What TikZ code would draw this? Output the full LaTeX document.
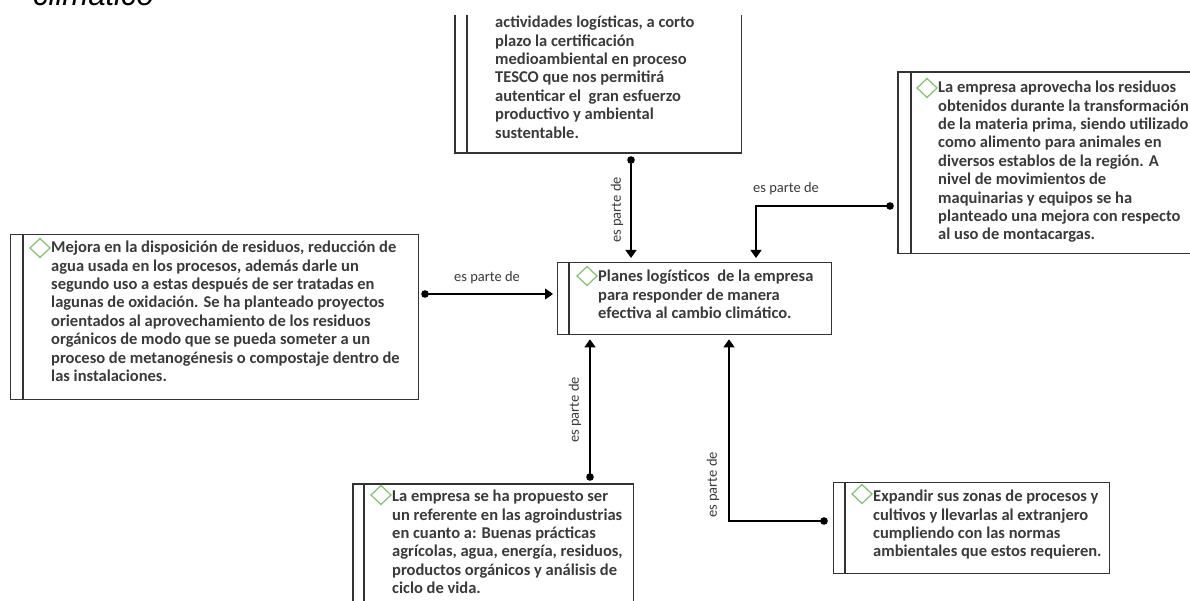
\documentclass[tikz,border=0pt]{standalone}
\usepackage{fontspec}
\setmainfont{Carlito}
\newfontfamily\titlefont{Liberation Sans}
\usetikzlibrary{arrows.meta,calc}
\definecolor{boxline}{HTML}{333333}
\definecolor{txt}{HTML}{3A3A3A}
\definecolor{dgreen}{HTML}{7DC36B}
\tikzset{
  box/.style={draw=boxline, line width=1.3pt, rectangle, inner sep=0pt, fill=none},
  bar/.style={draw=boxline, line width=1.3pt},
  btext/.style={text=txt, font=\bfseries\fontsize{16.5}{18.4}\selectfont, align=left, inner sep=0pt, anchor=north west},
  lbl/.style={text=txt, font=\fontsize{14.5}{16}\selectfont, inner sep=0pt},
  conn/.style={draw=black, line width=1.2pt, -{Triangle[width=11pt,length=8pt]}, shorten >=4pt},
  dotmark/.style={fill=black},
  dia/.style={draw=dgreen, line width=1.2pt}
}
\newcommand{\diam}[2]{\draw[dia] (#1-10,#2) -- (#1,#2-9.5) -- (#1+10,#2) -- (#1,#2+9.5) -- cycle;}
\begin{document}
\begin{tikzpicture}[x=1pt,y=-1pt]
\useasboundingbox (0,0) rectangle (1190,601);
% title fragment
\node[anchor=base west, inner sep=0pt, font=\titlefont\itshape\fontsize{31}{36}\selectfont, text=black] (ttl) at (33,6) {climático};

% central box
\node[box, minimum width=274pt, minimum height=72pt, anchor=north west] (c) at (557,262) {};
\draw[bar] ([xshift=12pt]c.north west) -- ([xshift=12pt]c.south west);
\diam{587}{276}
\node[btext] (ct) at (598,270) {Planes logísticos\ \ de la empresa\\para responder de manera\\efectiva al cambio climático.};

% top box (cut at top)
\node[inner sep=0pt, minimum width=286pt, minimum height=138pt, anchor=south west] (t) at (455,153) {};
\draw[bar] (t.north west) -- (t.south west) -- (t.south east) -- (t.north east);
\draw[bar] ([xshift=12pt]t.north west) -- ([xshift=12pt]t.south west);
\node[btext] (tt) at (495,16) {actividades logísticas, a corto\\plazo la certificación\\medioambiental en proceso\\TESCO que nos permitirá\\autenticar el\ \ gran esfuerzo\\productivo y ambiental\\sustentable.};

% right box (cut at right)
\node[inner sep=0pt, minimum width=300pt, minimum height=181pt, anchor=north west] (r) at (898,72) {};
\draw[bar] (r.north east) -- (r.north west) -- (r.south west) -- (r.south east);
\draw[bar] ([xshift=13pt]r.north west) -- ([xshift=13pt]r.south west);
\diam{927}{88}
\node[btext] (rt) at (938,81) {La empresa aprovecha los residuos\\obtenidos durante la transformación\\de la materia prima, siendo utilizado\\como alimento para animales en\\diversos establos de la región. A\\nivel de movimientos de\\maquinarias y equipos se ha\\planteado una mejora con respecto\\al uso de montacargas.};

% left box
\node[box, minimum width=408pt, minimum height=165pt, anchor=north west] (l) at (10,234) {};
\draw[bar] ([xshift=13pt]l.north west) -- ([xshift=13pt]l.south west);
\diam{40}{248}
\node[btext] (lt) at (51,241) {Mejora en la disposición de residuos, reducción de\\agua usada en los procesos, además darle un\\segundo uso a estas después de ser tratadas en\\lagunas de oxidación. Se ha planteado proyectos\\orientados al aprovechamiento de los residuos\\orgánicos de modo que se pueda someter a un\\proceso de metanogénesis o compostaje dentro de\\las instalaciones.};

% bottom-left box (cut at bottom)
\node[inner sep=0pt, minimum width=280pt, minimum height=130pt, anchor=north west] (bl) at (353,484) {};
\draw[bar] (bl.south west) -- (bl.north west) -- (bl.north east) -- (bl.south east);
\draw[bar] ([xshift=11pt]bl.north west) -- ([xshift=11pt]bl.south west);
\diam{381}{495}
\node[btext] (blt) at (392,490) {La empresa se ha propuesto ser\\un referente en las agroindustrias\\en cuanto a: Buenas prácticas\\agrícolas, agua, energía, residuos,\\productos orgánicos y análisis de\\ciclo de vida.};

% bottom-right box
\node[box, minimum width=276pt, minimum height=91pt, anchor=north west] (br) at (833,482) {};
\draw[bar] ([xshift=12pt]br.north west) -- ([xshift=12pt]br.south west);
\diam{862}{494}
\node[btext] (brt) at (873,490) {Expandir sus zonas de procesos y\\cultivos y llevarlas al extranjero\\cumpliendo con las normas\\ambientales que estos requieren.};

% connectors
\coordinate (d1) at (631,160);
\fill[dotmark] (d1) circle (3.8pt);
\draw[conn] (d1) -- (d1 |- c.north);
\node[lbl, rotate=90] (l1) at (617,210) {es parte de};

\coordinate (d2) at (890,206);
\coordinate (k2) at (756,206);
\fill[dotmark] (d2) circle (3.8pt);
\draw[conn] (d2) -- (k2) -- (k2 |- c.north);
\node[lbl] (l2) at (786,189) {es parte de};

\coordinate (d3) at (425,294);
\fill[dotmark] (d3) circle (3.8pt);
\draw[conn] (d3) -- (d3 -| c.west);
\node[lbl] (l3) at (487,278) {es parte de};

\coordinate (d4) at (590,477);
\fill[dotmark] (d4) circle (3.8pt);
\draw[conn] (d4) -- (d4 |- c.south);
\node[lbl, rotate=90] (l4) at (575,410) {es parte de};

\coordinate (d5) at (824,521);
\coordinate (k5) at (729,521);
\fill[dotmark] (d5) circle (3.8pt);
\draw[conn] (d5) -- (k5) -- (k5 |- c.south);
\node[lbl, rotate=90] (l5) at (713,485) {es parte de};
\end{tikzpicture}
\end{document}
